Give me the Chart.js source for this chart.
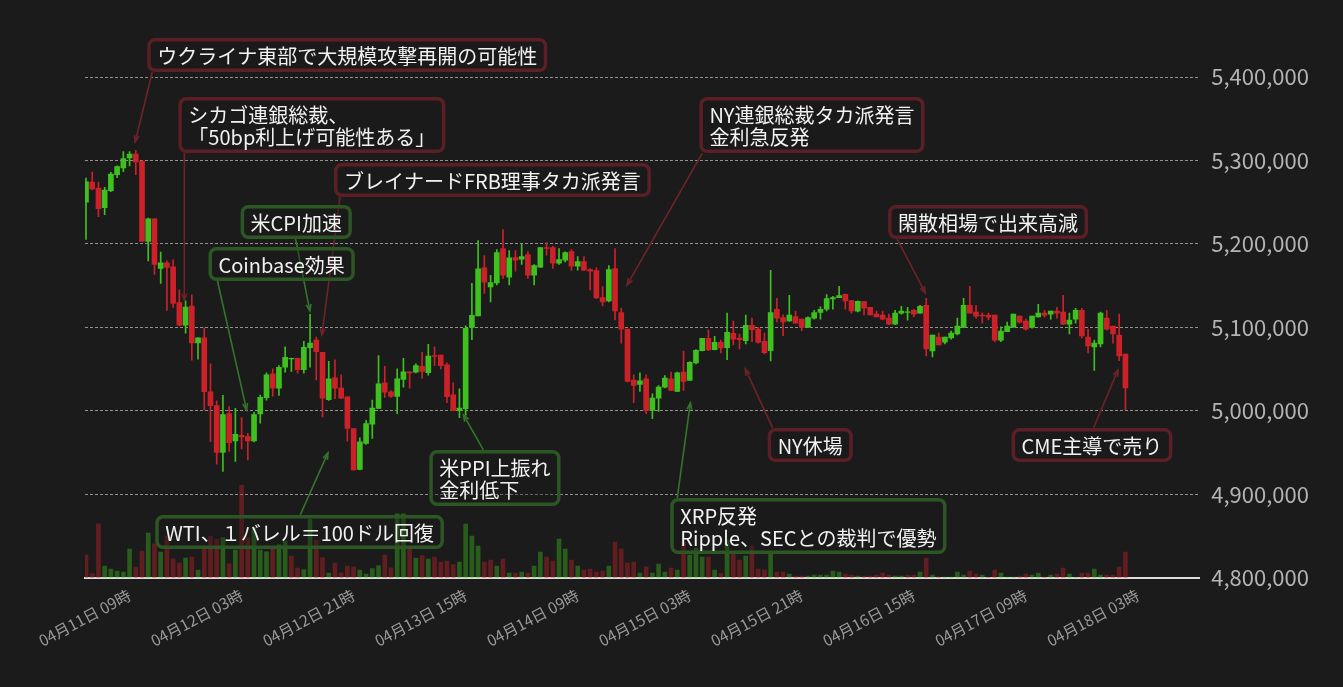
<!DOCTYPE html>
<html>
<head>
<meta charset="utf-8">
<script src="https://cdn.jsdelivr.net/npm/chart.js@4.4.1/dist/chart.umd.min.js"></script>
<style>
html,body{margin:0;padding:0;background:#1b1b1b;overflow:hidden;}
#wrap{width:1343px;height:687px;position:relative;}
canvas{display:block;}
</style>
</head>
<body>
<div id="wrap"><canvas id="c" width="1343" height="687"></canvas></div>
<script>
// ---- Data (BTC/JPY hourly, 04/11 02:00 → 04/18 01:00) ----
const opens = [5250000,5274100,5267000,5243500,5263800,5282900,5291200,5303200,5307600,5299200,
5202900,5230000,5170600,5177400,5172600,5129700,5102600,5125700,5081500,5087500,
5023000,5006300,4950200,4996700,4964100,4970900,4969300,4964100,4996300,5015800,
5044400,5027300,5052300,5062200,5063000,5049500,5075700,5084900,5070200,5013400,
5039600,5027300,5017000,4978900,4930000,4961000,4984000,5003100,5033700,5022900,
5017400,5037600,5046800,5046400,5053500,5045900,5066200,5067000,5055100,5019400,
5000300,5002700,5100000,5113900,5171400,5148400,5153200,5194400,5160300,5183700,
5181700,5187300,5162700,5172200,5195600,5195600,5177000,5180500,5190900,5173400,
5179000,5169400,5168200,5135700,5131700,5170600,5117800,5098000,5036800,5031700,
5038400,5000700,5015400,5028500,5038500,5023400,5046400,5036500,5057500,5072200,
5086900,5073400,5082100,5075800,5092900,5087300,5084100,5102400,5098000,5083300,
5072200,5121800,5111900,5107900,5113100,5109900,5100000,5111100,5117900,5121800,
5134100,5135700,5139700,5132200,5119500,5131000,5124200,5115900,5114700,5111100,
5104000,5117100,5117900,5120600,5117100,5126600,5071800,5088500,5082500,5087300,
5092100,5100000,5126600,5118300,5114700,5114700,5114700,5084900,5094800,5100400,
5113500,5107500,5100000,5112700,5117100,5115900,5119500,5118300,5104000,5109900,
5120600,5088500,5076600,5080200,5111100,5101600,5090900,5068200];
const highs = [5278900,5286000,5274100,5267800,5285700,5293600,5310700,5310700,5312300,5299200,
5231100,5230500,5190200,5179800,5181000,5145200,5132000,5139200,5087500,5099400,
5056400,5012200,5018600,5005100,5003100,4991900,4973200,4998300,5019000,5045700,
5050300,5054300,5076900,5063400,5063400,5083300,5115800,5088400,5070200,5059500,
5061100,5043200,5017000,4979000,4967800,4988800,5013000,5066200,5053500,5024500,
5050300,5063000,5046900,5056300,5070200,5079700,5076900,5067000,5057500,5033700,
5026500,5101900,5152800,5204000,5186100,5162300,5193300,5217100,5192100,5192100,
5200000,5190900,5175400,5196000,5201600,5197200,5194400,5190500,5193300,5184900,
5184900,5170600,5171400,5148800,5174200,5194400,5123000,5098000,5043200,5045600,
5043200,5020600,5030500,5042400,5046400,5046400,5071800,5059100,5073400,5087000,
5096800,5089300,5084900,5117100,5107500,5092100,5114700,5111100,5100000,5093300,
5168300,5134900,5115100,5138500,5119500,5110000,5112700,5120600,5124600,5139300,
5137300,5149200,5140100,5132200,5131800,5131000,5124200,5119500,5119500,5115900,
5120600,5125400,5124200,5121800,5126600,5134900,5091000,5093300,5088500,5095600,
5111100,5134900,5149200,5126600,5117100,5117100,5114700,5100800,5106400,5116000,
5113500,5109900,5113500,5127800,5120600,5119500,5124200,5138500,5117100,5123000,
5123000,5098000,5084900,5118300,5120600,5101600,5115900,5068200];
const lows = [5205300,5264600,5232700,5235100,5262600,5279300,5286500,5293600,5282900,5202900,
5179800,5163500,5152700,5120500,5124100,5101800,5093000,5060800,5062000,5001100,
4963300,4936200,4927500,4951400,4939400,4954600,4941400,4963000,4985200,5013000,
5017800,5018600,5046400,5047200,5045200,5045200,5052300,5037200,4992800,5012600,
5014600,5014600,4963800,4929000,4929200,4959800,4967000,5003000,5016200,5016200,
4996700,5028500,5027300,5045600,5039200,5042800,5054300,5050300,5009900,4999900,
4992000,4994800,5085300,5113900,5140800,5130500,5150800,5158700,5150800,5167400,
5175400,5158700,5150800,5172000,5186500,5170600,5175400,5178600,5168200,5168600,
5168200,5144800,5134500,5125800,5130500,5109100,5081300,5034500,5009800,5023300,
4996700,4990800,4999500,5027700,5024200,5023000,5024600,5036500,5056300,5072000,
5072200,5073000,5069400,5061500,5079000,5074200,5080200,5082900,5081300,5068200,
5059900,5106700,5090100,5107100,5105000,5096000,5100000,5109900,5109900,5119800,
5121800,5135700,5121800,5117100,5118700,5115100,5115100,5112500,5109100,5103200,
5103200,5115900,5108700,5112700,5116700,5065900,5064700,5079000,5080200,5086100,
5090900,5100000,5117000,5111100,5105200,5109100,5082900,5082900,5094800,5100400,
5105200,5096800,5099200,5112300,5112300,5109900,5111100,5103200,5092100,5105200,
5087300,5069400,5048400,5076600,5096800,5081300,5060300,5001500];
const closes = [5274500,5265800,5242300,5264600,5283700,5292800,5302400,5307600,5298400,5202900,
5230000,5175400,5177400,5171800,5128900,5102600,5124500,5081500,5087500,5023000,
5006300,4950200,4995500,4962100,4972000,4968900,4964100,4995500,5016200,5043300,
5027300,5052300,5064200,5063000,5049500,5076100,5081300,5071000,5015400,5038400,
5027300,5015400,4978900,4929200,4963000,4984800,5003500,5032500,5022500,5017400,
5038400,5046800,5045600,5054300,5047200,5065800,5065400,5054300,5017000,5000300,
5003500,5098800,5114600,5170200,5154300,5153600,5189700,5162700,5183300,5180500,
5184900,5162700,5174200,5195600,5194800,5177000,5181300,5189700,5173400,5179000,
5168600,5167400,5135300,5130500,5169400,5119800,5098000,5035300,5030500,5036000,
5000700,5015400,5028500,5039300,5024600,5045600,5035300,5058300,5072600,5086900,
5073000,5082100,5075400,5094000,5086100,5085300,5102400,5097200,5082100,5069800,
5117900,5111100,5106700,5114700,5105200,5100000,5111900,5117900,5121800,5134500,
5135700,5138100,5131800,5119900,5131400,5123000,5115100,5112700,5109900,5104000,
5117100,5119500,5118700,5115900,5125400,5074200,5090900,5079000,5088500,5093300,
5101600,5126600,5117100,5113500,5113900,5112300,5084900,5095600,5101600,5115900,
5106400,5098000,5113500,5117100,5114700,5119500,5117100,5104000,5108700,5120600,
5089700,5077800,5081300,5117100,5098000,5092100,5065900,5027700];
const volumes = [22.7,4.3,54,11.7,8.7,6.7,5.7,28.7,10.7,26.7,
44.7,34,25.7,41.7,19,14.7,19.7,20.7,7.7,31,
41.7,38.7,40.3,14,27.7,92.7,40.3,50.3,27.7,26,
29.3,33.3,36.7,21.7,9.7,8.3,58.7,37.7,20.3,4.7,
14.7,5,11.7,11,7.7,3.7,9.3,12.3,22.7,10,
64,64,29,19.7,22.3,18.7,20.7,15.7,16.7,13.3,
15.7,53.7,41.7,31.7,15.7,17.7,11.7,18.7,4.7,4.7,
5.7,4.7,11.7,25.7,20.7,16.7,38.7,28.7,17.7,11.7,
7.7,8.7,5.7,6.7,11.7,35.7,29,14.7,15.7,4.7,
11,4.7,13.7,5.7,9.7,7.7,35.7,22.7,29.7,20.7,
20.7,7.7,4.3,37.7,23.7,17.7,21.7,31.7,8.7,7.7,
24.7,5.7,5.7,3.7,1.7,1.7,1.7,2.7,2.7,2.7,
6.7,5.7,3.7,2.7,1.7,1.7,1.7,2.7,4.7,2.7,
1.7,1.7,2.7,2.7,5.7,19.7,2.7,1,0.7,0.7,
5.7,2.7,6.7,3.7,2.7,0.5,7.7,4.7,0.7,0.7,
1.7,3.7,2.7,4.7,0.7,2.7,3.7,9.7,3.7,0.5,
4.7,4.7,8.7,2.7,2.7,2.7,10.7,25.7];
const tickIndex = [7,25,43,61,79,97,115,133,151,169];
const tickLabels = ['04月11日 09時','04月12日 03時','04月12日 21時','04月13日 15時','04月14日 09時',
                    '04月15日 03時','04月15日 21時','04月16日 15時','04月17日 09時','04月18日 03時'];
const priceTicks = [4800000,4900000,5000000,5100000,5200000,5300000,5400000];

// annotations: text lines, tone, box top-left (index, price), line start offset, target (index, price)
const notes = [
  {text:['ウクライナ東部で大規模攻撃再開の可能性'], tone:'red', box:[9.84,5446700], dx:5, edge:'bottom', target:[7.9,5322200]},
  {text:['シカゴ連銀総裁、','「50bp利上げ可能性ある」'], tone:'red', box:[14.84,5376000], dx:6, edge:'bottom', target:[15.8,5132900]},
  {text:['ブレイナードFRB理事タカ派発言'], tone:'red', box:[39.84,5297000], dx:6, edge:'bottom', target:[37.9,5091000]},
  {text:['NY連銀総裁タカ派発言','金利急反発'], tone:'red', box:[98.55,5376000], dx:3, edge:'bottom', target:[86.94,5150900]},
  {text:['閑散相場で出来高減'], tone:'red', box:[128.87,5246700], dx:9, edge:'bottom', target:[134.84,5141300]},
  {text:['NY休場'], tone:'red', box:[109.52,4979600], dx:5, edge:'top', target:[105.92,5050300]},
  {text:['CME主導で売り'], tone:'red', box:[148.71,4979600], dx:82, edge:'top', target:[165.8,5049100]},
  {text:['米CPI加速'], tone:'green', box:[24.84,5246700], dx:55, edge:'bottom', target:[35.97,5119800]},
  {text:['Coinbase効果'], tone:'green', box:[19.68,5196400], dx:9, edge:'bottom', target:[25.8,5001200]},
  {text:['WTI、１バレル＝100ドル回復'], tone:'green', box:[11.13,4875400], dx:145, edge:'top', target:[38.87,4949700]},
  {text:['米PPI上振れ','金利低下'], tone:'green', box:[55.16,4953300], dx:54, edge:'top', target:[60.65,4995200]},
  {text:['XRP反発','Ripple、SECとの裁判で優勢'], tone:'green', box:[93.87,4895800], dx:7, edge:'top', target:[97.1,5009600]}
];

// ---- Styles ----
const UP = '#3ec11f', DOWN = '#cc2129';
const VOL_UP = 'rgba(62,193,31,0.40)', VOL_DOWN = 'rgba(204,33,41,0.40)';
const TONES = {
  red:   {border:'#5c1f25', line:'#6e2329'},
  green: {border:'#2d5625', line:'#33752a'}
};
const FONT = '"Noto Sans CJK JP", "Noto Sans", sans-serif';

const idx = opens.map((_, i) => i);
const isUp = idx.map(i => closes[i] >= opens[i]);
const volUp = idx.map(i => i > 0 && closes[i] >= closes[i - 1]);

const bodyData = idx.map(i => ({x: i, y: [opens[i], closes[i]]}));
const wickData = idx.map(i => ({x: i, y: [lows[i], highs[i]]}));
const volData  = idx.map(i => ({x: i, y: volumes[i]}));

const bgPlugin = {
  id: 'bg',
  beforeDraw(chart) {
    const c = chart.ctx;
    c.save(); c.fillStyle = '#1b1b1b'; c.fillRect(0, 0, chart.width, chart.height); c.restore();
  }
};

function rrect(ctx, x, y, w, h, r) {
  ctx.beginPath();
  ctx.moveTo(x + r, y);
  ctx.lineTo(x + w - r, y); ctx.arcTo(x + w, y, x + w, y + r, r);
  ctx.lineTo(x + w, y + h - r); ctx.arcTo(x + w, y + h, x + w - r, y + h, r);
  ctx.lineTo(x + r, y + h); ctx.arcTo(x, y + h, x, y + h - r, r);
  ctx.lineTo(x, y + r); ctx.arcTo(x, y, x + r, y, r);
  ctx.closePath();
}

const notePlugin = {
  id: 'notes',
  afterDraw(chart) {
    const ctx = chart.ctx, xs = chart.scales.x, ys = chart.scales.y;
    const PADX = 10, PADY = 6, LH = 22, BW = 3.5;
    ctx.save();
    ctx.font = '20px ' + FONT;
    const boxes = notes.map(n => {
      const tw = Math.max(...n.text.map(t => ctx.measureText(t).width));
      const w = tw + 2 * PADX, h = n.text.length * LH + 2 * PADY;
      const bx = xs.getPixelForValue(n.box[0]), by = ys.getPixelForValue(n.box[1]);
      return {n, w, h, bx, by};
    });
    boxes.forEach(({n, h, bx, by}) => {
      const sx = bx + n.dx, sy = n.edge === 'top' ? by : by + h;
      const tx = xs.getPixelForValue(n.target[0]), ty = ys.getPixelForValue(n.target[1]);
      ctx.strokeStyle = TONES[n.tone].line;
      ctx.lineWidth = 1.6;
      ctx.beginPath(); ctx.moveTo(sx, sy); ctx.lineTo(tx, ty); ctx.stroke();
      const a = Math.atan2(ty - sy, tx - sx), L = 7;
      ctx.beginPath();
      ctx.moveTo(tx - L * Math.cos(a - 0.35), ty - L * Math.sin(a - 0.35));
      ctx.lineTo(tx, ty);
      ctx.lineTo(tx - L * Math.cos(a + 0.35), ty - L * Math.sin(a + 0.35));
      ctx.stroke();
    });
    boxes.forEach(({n, w, h, bx, by}) => {
      rrect(ctx, bx + BW / 2, by + BW / 2, w - BW, h - BW, 6);
      ctx.fillStyle = 'rgba(27,27,27,0.35)';
      ctx.fill();
      ctx.lineWidth = BW;
      ctx.strokeStyle = TONES[n.tone].border;
      ctx.stroke();
      ctx.fillStyle = '#f2f2f2';
      ctx.textBaseline = 'middle';
      ctx.textAlign = 'left';
      n.text.forEach((t, k) => ctx.fillText(t, bx + PADX, by + PADY + LH * k + LH / 2 + 1));
    });
    ctx.restore();
  }
};

Chart.defaults.font.family = FONT;

new Chart(document.getElementById('c'), {
  type: 'bar',
  data: {
    datasets: [
      {label: 'volume', data: volData, yAxisID: 'yv', order: 3,
       backgroundColor: idx.map(i => volUp[i] ? VOL_UP : VOL_DOWN), barThickness: 4},
      {label: 'wick', data: wickData, yAxisID: 'y', order: 2,
       backgroundColor: idx.map(i => isUp[i] ? UP : DOWN), barThickness: 1},
      {label: 'body', data: bodyData, yAxisID: 'y', order: 1,
       backgroundColor: idx.map(i => isUp[i] ? UP : DOWN), barThickness: 5}
    ]
  },
  options: {
    responsive: false,
    animation: false,
    events: [],
    datasets: {bar: {grouped: false, borderWidth: 0, borderSkipped: false}},
    layout: {padding: {left: 85, right: 22, top: 77, bottom: 29}},
    plugins: {legend: {display: false}, tooltip: {enabled: false}},
    scales: {
      x: {
        type: 'linear',
        offset: false,
        min: -0.16, max: 178.87,
        afterBuildTicks: s => { s.ticks = tickIndex.map(v => ({value: v})); },
        afterFit: s => { s.paddingLeft = 0; s.paddingRight = 0; },
        grid: {display: false, drawTicks: false, offset: false},
        border: {display: true, color: '#dedede', width: 2},
        ticks: {
          autoSkip: false, minRotation: 28, maxRotation: 28, padding: 8,
          color: '#9a9a9a', font: {size: 15.5},
          callback: v => tickLabels[tickIndex.indexOf(v)] || ''
        }
      },
      y: {
        position: 'right',
        min: 4800000, max: 5400000,
        afterBuildTicks: s => { s.ticks = priceTicks.map(v => ({value: v})); },
        grid: {color: c => (c.tick && c.tick.value === 4800000) ? 'rgba(0,0,0,0)' : 'rgba(175,175,175,0.8)',
               lineWidth: 1, drawTicks: false},
        border: {display: false, dash: [3, 2]},
        ticks: {color: '#b4b4b4', font: {size: 22}, padding: 12,
                callback: v => v.toLocaleString('en-US')}
      },
      yv: {display: false, min: 0, max: 501}
    }
  },
  plugins: [bgPlugin, notePlugin]
});
</script>
</body>
</html>
